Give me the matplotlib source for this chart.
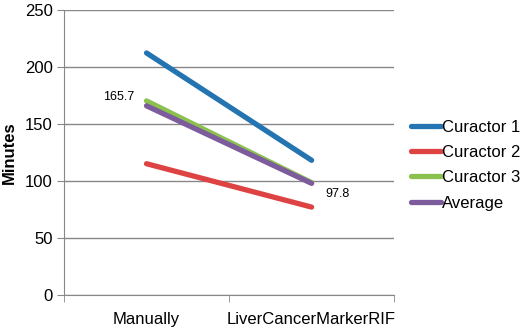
import matplotlib
matplotlib.use("Agg")
import matplotlib.pyplot as plt

plt.rcParams['font.family'] = ['Liberation Sans', 'DejaVu Sans']

categories = ["Manually", "LiverCancerMarkerRIF"]
curactor_1 = [212, 118]
curactor_2 = [115, 77]
curactor_3 = [170, 98.4]
average = [165.7, 97.8]

series = [
    ("Curactor 1", curactor_1, "#2374b0"),
    ("Curactor 2", curactor_2, "#de4343"),
    ("Curactor 3", curactor_3, "#8cc14f"),
    ("Average", average, "#7c5c9c"),
]

fig = plt.figure(figsize=(5.2, 3.3), dpi=100)
ax = fig.add_axes([0.123, 0.106, 0.635, 0.865])

x = [0, 1]
for name, vals, color in series:
    ax.plot(x, vals, color=color, lw=3.8, solid_capstyle="round", label=name)

ax.set_xlim(-0.5, 1.5)
ax.set_ylim(0, 250)
ax.set_yticks(range(0, 251, 50))
ax.set_xticks(x)
ax.set_xticklabels(categories, fontsize=12)
ax.tick_params(axis="x", length=0, pad=12)
ax.set_xticks([-0.5, 0.5, 1.5], minor=True)
ax.tick_params(axis="x", which="minor", length=5, color="#888888")
ax.tick_params(axis="y", labelsize=12, length=5, color="#888888", pad=3)
ax.grid(axis="y", color="#888888", lw=1)
ax.set_axisbelow(True)
for s in ["top", "right"]:
    ax.spines[s].set_visible(False)
for s in ["left", "bottom"]:
    ax.spines[s].set_color("#888888")
ax.set_ylabel("Minutes", fontsize=12, fontweight="bold", labelpad=6)

ax.annotate(f"{average[0]:.1f}", (0, average[0]), xytext=(-9, 2),
            textcoords="offset points", ha="right", va="bottom", fontsize=9)
ax.annotate(f"{average[1]:.1f}", (1, average[1]), xytext=(10, -3),
            textcoords="offset points", ha="left", va="top", fontsize=9)

ax.legend(loc="center left", bbox_to_anchor=(1.03, 0.455), frameon=False,
          fontsize=12, handlelength=1.8, handletextpad=0.1, labelspacing=0.62,
          borderaxespad=0)

fig.savefig("out.png", dpi=100)
